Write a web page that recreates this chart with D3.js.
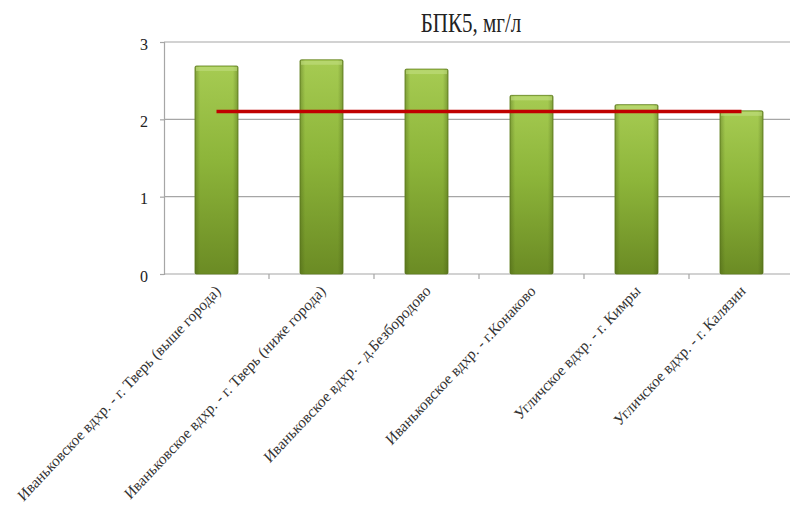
<!DOCTYPE html>
<html><head><meta charset="utf-8">
<script src="https://cdn.jsdelivr.net/npm/d3@7"></script>
<style>body{margin:0;background:#fff}svg{display:block}</style>
</head><body>
<script>
const title = "БПК5, мг/л";
const categories = [
  "Иваньковское вдхр. - г. Тверь (выше города)",
  "Иваньковское вдхр. - г. Тверь (ниже города)",
  "Иваньковское вдхр. - д.Безбородово",
  "Иваньковское вдхр. - г.Конаково",
  "Угличское вдхр. - г. Кимры",
  "Угличское вдхр. - г. Калязин"
];
const values = [2.69, 2.77, 2.65, 2.31, 2.19, 2.11];
const normValues = [2.1, 2.1, 2.1, 2.1, 2.1, 2.1];
const yTicks = [0, 1, 2, 3];

const W = 790, H = 518;
const m = {left: 164, right: 794, top: 42, bottom: 274};
const svg = d3.select("body").append("svg").attr("width", W).attr("height", H);

const x = d3.scaleBand().domain(categories).range([m.left, m.right]).paddingInner(0.59).paddingOuter(0.295);
const xb = d3.scaleBand().domain(categories).range([m.left, m.right]);
const y = d3.scaleLinear().domain([0, 3]).range([m.bottom, m.top]);

const defs = svg.append("defs");
const gv = defs.append("linearGradient").attr("id", "gv").attr("x1", 0).attr("y1", 0).attr("x2", 0).attr("y2", 1);
gv.append("stop").attr("offset", "0%").attr("stop-color", "#a6cb52");
gv.append("stop").attr("offset", "45%").attr("stop-color", "#8db53a");
gv.append("stop").attr("offset", "100%").attr("stop-color", "#6b8b24");
const gh = defs.append("linearGradient").attr("id", "gh").attr("x1", 0).attr("y1", 0).attr("x2", 1).attr("y2", 0);
gh.append("stop").attr("offset", "0%").attr("stop-color", "#3d5210").attr("stop-opacity", 0.35);
gh.append("stop").attr("offset", "12%").attr("stop-color", "#3d5210").attr("stop-opacity", 0);
gh.append("stop").attr("offset", "88%").attr("stop-color", "#3d5210").attr("stop-opacity", 0);
gh.append("stop").attr("offset", "100%").attr("stop-color", "#3d5210").attr("stop-opacity", 0.35);

// gridlines
svg.append("g").selectAll("line").data(yTicks.filter(d => d > 0)).join("line")
  .attr("x1", m.left).attr("x2", W).attr("y1", d => y(d)).attr("y2", d => y(d))
  .attr("stroke", "#a6a6a6").attr("stroke-width", 1.2);

// y axis
const yAxis = svg.append("g").attr("transform", `translate(${m.left},0)`)
  .call(d3.axisLeft(y).tickValues(yTicks).tickSize(4).tickPadding(12).tickFormat(d3.format("d")));
yAxis.attr("font-family", "Liberation Serif, serif");
yAxis.select(".domain").attr("stroke", "#a6a6a6").attr("stroke-width", 1.2);
yAxis.selectAll(".tick line").attr("stroke", "#a6a6a6").attr("stroke-width", 1.2);
yAxis.selectAll("text").attr("font-family", "Liberation Serif, serif").attr("font-size", 16).attr("fill", "#222").attr("dy", "0.45em");

// x axis line + ticks at band boundaries
svg.append("line").attr("x1", m.left).attr("x2", W).attr("y1", m.bottom).attr("y2", m.bottom)
  .attr("stroke", "#a6a6a6").attr("stroke-width", 1.2);
svg.append("g").selectAll("line").data(categories).join("line")
  .attr("x1", d => xb(d) + xb.bandwidth()).attr("x2", d => xb(d) + xb.bandwidth())
  .attr("y1", m.bottom).attr("y2", m.bottom + 5)
  .attr("stroke", "#a6a6a6").attr("stroke-width", 1.2);

// bars
const bars = svg.append("g").selectAll("g").data(categories).join("g");
bars.append("rect")
  .attr("x", d => x(d)).attr("width", x.bandwidth())
  .attr("y", (d, i) => y(values[i])).attr("height", (d, i) => y(0) - y(values[i]))
  .attr("fill", "url(#gv)").attr("stroke", "#62801f").attr("stroke-width", 0.8).attr("rx", 1.5);
bars.append("rect")
  .attr("x", d => x(d)).attr("width", x.bandwidth())
  .attr("y", (d, i) => y(values[i])).attr("height", (d, i) => y(0) - y(values[i]))
  .attr("fill", "url(#gh)");
bars.append("rect")
  .attr("x", d => x(d) + 1).attr("width", x.bandwidth() - 2)
  .attr("y", (d, i) => y(values[i]) + 1).attr("height", 4)
  .attr("fill", "#c2de80").attr("opacity", 0.6);

// norm line
const line = d3.line().x((d, i) => xb(categories[i]) + xb.bandwidth() / 2).y(d => y(d));
svg.append("path").datum(normValues).attr("d", line)
  .attr("fill", "none").attr("stroke", "#c00000").attr("stroke-width", 3.5);

// title
svg.append("text").attr("transform", "translate(471,32) scale(1,1.25)")
  .attr("text-anchor", "middle").attr("font-family", "Liberation Serif, serif")
  .attr("font-size", 21).attr("fill", "#222").text(title);

// category labels
svg.append("g").selectAll("text").data(categories).join("text")
  .attr("transform", d => `translate(${xb(d) + xb.bandwidth() / 2 + 5},${m.bottom + 18}) scale(1,1.06) rotate(-45)`)
  .attr("text-anchor", "end").attr("font-family", "Liberation Serif, serif")
  .attr("font-size", 15).attr("fill", "#333").text(d => d);
</script>
</body></html>
